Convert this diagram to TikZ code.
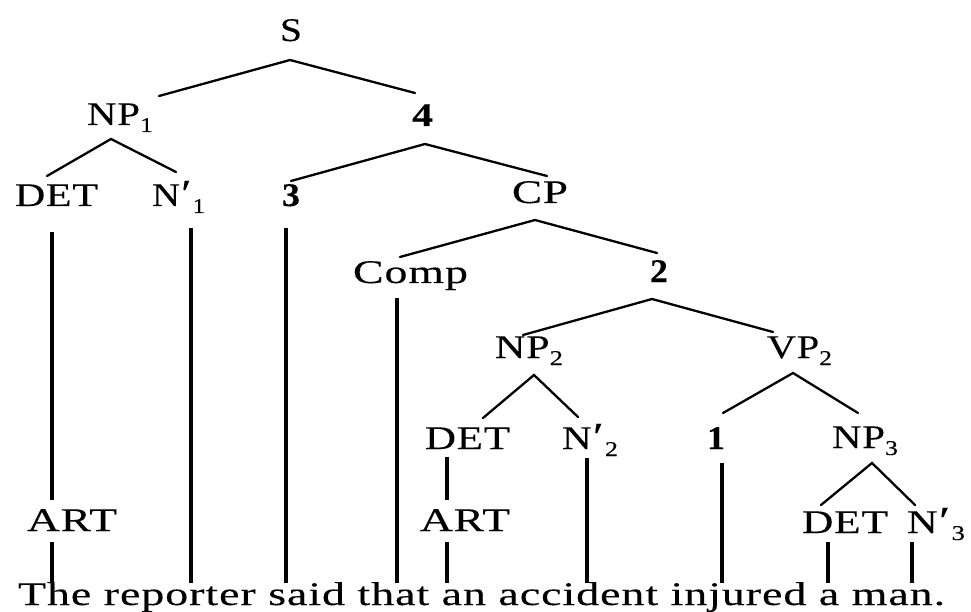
\documentclass[tikz,border=0pt]{standalone}
\usepackage{graphicx}
\usepackage{fontspec}
\setmainfont{Liberation Serif}[LetterSpace=2, FakeBold=0.2]
\usetikzlibrary{calc}
\newcommand{\fitw}[2]{\resizebox{#1pt}{\height}{#2}}
\newcommand{\subsc}[1]{\raisebox{-7pt}{\fontsize{21}{21}\selectfont #1}}
\newcommand{\prm}{\hspace{1pt}\raisebox{-1pt}{\fontsize{40}{40}\selectfont ′}\hspace{1pt}}
\tikzset{
  lab/.style={inner sep=0pt, anchor=base, font=\fontsize{33}{38}\selectfont},
  blab/.style={lab, font=\fontsize{33}{38}\selectfont\bfseries},
  edg/.style={line width=2.3pt, line cap=round},
  vln/.style={line width=3.2pt}
}
\begin{document}
\begin{tikzpicture}[x=1pt,y=-1pt]
\useasboundingbox (0,0) rectangle (971,612);
% nodes
\node[lab]  (S)    at (291,41)  {\fitw{22}{S}};
\node[lab]  (NP1)  at (120,125) {\fitw{66}{NP\subsc{1}}};
\node[blab] (n4)   at (422.5,126) {\fitw{21}{4}};
\node[lab]  (DET1) at (56.5,206) {\fitw{83}{DET}};
\node[lab]  (N1)   at (178.5,206) {\fitw{53}{N\prm\subsc{1}}};
\node[blab] (n3)   at (291,206) {\fitw{18}{3}};
\node[lab]  (CP)   at (540,203) {\fitw{56}{CP}};
\node[lab]  (Comp) at (410.5,283) {\fitw{115}{Comp}};
\node[blab] (n2)   at (659,282) {\fitw{18}{2}};
\node[lab]  (NP2)  at (529,358) {\fitw{68}{NP\subsc{2}}};
\node[lab]  (VP2)  at (799.5,358) {\fitw{65}{VP\subsc{2}}};
\node[lab]  (DET2) at (467.5,449) {\fitw{85}{DET}};
\node[lab]  (N2)   at (590,449) {\fitw{56}{N\prm\subsc{2}}};
\node[blab] (n1)   at (716,449) {\fitw{18}{1}};
\node[lab]  (NP3)  at (865,448) {\fitw{66}{NP\subsc{3}}};
\node[lab]  (ART1) at (72,531)  {\fitw{90}{ART}};
\node[lab]  (ART2) at (465,531) {\fitw{90}{ART}};
\node[lab]  (DET3) at (845,533) {\fitw{86}{DET}};
\node[lab]  (N3)   at (936,533) {\fitw{58}{N\prm\subsc{3}}};
\node[inner sep=0pt, anchor=base, font=\fontsize{33}{38}\selectfont] (sent) at (481.5,605)
  {\fitw{927}{The reporter said that an accident injured a man.}};
% branches
\draw[edg] ($(NP1.base)+(39,-29)$) -- ($(S.base)+(-1,19)$) -- ($(n4.base)+(-7.5,-33)$);
\draw[edg] ($(DET1.base)+(-9.5,-30)$) -- ($(NP1.base)+(-9,14)$) -- ($(N1.base)+(-2.5,-34)$);
\draw[edg] ($(n3.base)+(0,-25)$) -- ($(n4.base)+(2.5,18)$) -- ($(CP.base)+(7,-27)$);
\draw[edg] ($(Comp.base)+(-10.5,-26)$) -- ($(CP.base)+(-5,17)$) -- ($(n2.base)+(-2,-29)$);
\draw[edg] ($(NP2.base)+(-6,-23)$) -- ($(n2.base)+(-7,17)$) -- ($(VP2.base)+(-26.5,-26)$);
\draw[edg] ($(DET2.base)+(15.5,-31)$) -- ($(NP2.base)+(5,17)$) -- ($(N2.base)+(-12,-32)$);
\draw[edg] ($(n1.base)+(7,-36)$) -- ($(VP2.base)+(-6.5,15)$) -- ($(NP3.base)+(-7,-35)$);
\draw[edg] ($(DET3.base)+(-24,-28)$) -- ($(NP3.base)+(7,15)$) -- ($(N3.base)+(-21,-28)$);
% vertical lines
\draw[vln] ($(DET1.base)+(-4.5,26)$) -- ($(ART1.base)+(-20,-31)$);
\draw[vln] ($(ART1.base)+(-20,11)$) -- ($(sent.base)+(-429.5,-22)$);
\draw[vln] ($(N1.base)+(12.5,22)$) -- ($(sent.base)+(-290.5,-22)$);
\draw[vln] ($(n3.base)+(-5,22)$) -- ($(sent.base)+(-195.5,-22)$);
\draw[vln] ($(Comp.base)+(-13.5,15)$) -- ($(sent.base)+(-84.5,-22)$);
\draw[vln] ($(DET2.base)+(-20.5,8)$) -- ($(ART2.base)+(-18,-31)$);
\draw[vln] ($(ART2.base)+(-18,11)$) -- ($(sent.base)+(-34.5,-22)$);
\draw[vln] ($(N2.base)+(-3,9)$) -- ($(sent.base)+(105.5,-22)$);
\draw[vln] ($(n1.base)+(6,14)$) -- ($(sent.base)+(240.5,-22)$);
\draw[vln] ($(DET3.base)+(-17,9)$) -- ($(sent.base)+(346.5,-22)$);
\draw[vln] ($(N3.base)+(-24,9)$) -- ($(sent.base)+(430.5,-22)$);
\end{tikzpicture}
\end{document}
